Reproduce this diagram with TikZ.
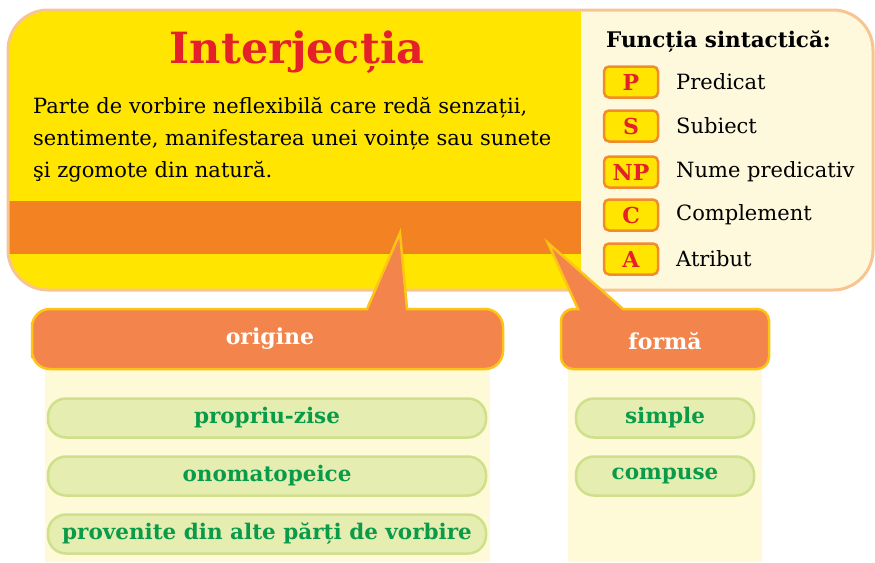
\documentclass[tikz,border=0pt]{standalone}
\usepackage{fontspec}
\setmainfont{DejaVu Serif}
\usepackage{tikz}
\definecolor{sunny}{RGB}{255,229,0}
\definecolor{band}{RGB}{242,130,34}
\definecolor{peach}{RGB}{248,197,146}
\definecolor{creamy}{RGB}{254,248,220}
\definecolor{colcream}{RGB}{254,249,214}
\definecolor{calloutfill}{RGB}{243,132,75}
\definecolor{calloutline}{RGB}{253,195,21}
\definecolor{pillfill}{RGB}{229,237,176}
\definecolor{pillline}{RGB}{207,224,140}
\definecolor{leaf}{RGB}{10,155,74}
\definecolor{tagred}{RGB}{228,32,42}
\definecolor{tagline}{RGB}{242,138,46}

\begin{document}
\begin{tikzpicture}[x=1pt,y=-1pt,
    pill/.style={draw=pillline,fill=pillfill,line width=2.5pt,rounded corners=18pt,minimum height=39pt,
        inner sep=0pt,font=\bfseries\fontsize{21.5}{24}\selectfont,text=leaf},
    tag/.style={draw=tagline,fill=sunny,line width=2.5pt,rounded corners=5pt,minimum width=54pt,
        minimum height=31pt,inner sep=0pt,font=\bfseries\fontsize{22}{24}\selectfont,text=tagred},
    callout/.style={fill=calloutfill,draw=calloutline,line width=2.5pt},
    head/.style={font=\bfseries\fontsize{22}{24}\selectfont,text=white}]
\useasboundingbox (0,0) rectangle (875,562);

% main panel
\fill[creamy,rounded corners=40pt] (8,10) rectangle (873,290);
\begin{scope}
\clip[rounded corners=40pt] (8,10) rectangle (873,290);
\fill[sunny] (8,10) rectangle (581,290);
\fill[band] (8,201) rectangle (581,254);
\end{scope}
\draw[peach,line width=3pt,rounded corners=40pt] (8,10) rectangle (873,290);

\node[text=tagred,font=\bfseries\fontsize{43}{46}\selectfont] (title) at (297,52) {Interjecția};
\node[anchor=north west,inner sep=0pt,align=left,font=\fontsize{21}{32}\selectfont] (def) at (33,97)
    {Parte de vorbire neflexibilă care redă senzații,\\
     sentimente, manifestarea unei voințe sau sunete\\
     şi zgomote din natură.};

% legend
\node[anchor=west,inner sep=0pt,font=\bfseries\fontsize{21.5}{24}\selectfont] (fhead) at (606,42) {Funcția sintactică:};
\foreach \y/\t/\n in {82/P/Predicat,126/S/Subiect,172/NP/Nume predicativ,215/C/Complement,259/A/Atribut}{
    \node[tag] (tag\t) at (631,\y) {\t};
    \node[anchor=west,inner sep=0pt,font=\fontsize{21}{24}\selectfont] (fn\t) at (676,\y) {\n};
}

% columns
\fill[colcream] (45,369) rectangle (490,562);
\fill[colcream] (568,369) rectangle (762,562);

% callouts
\draw[callout,rounded corners=18pt] (32,340) -- (32,309) [sharp corners] -- (367,309) -- (400,233)
    -- (407,309) [rounded corners=18pt] -- (503,309) -- (503,369) -- (32,369) -- cycle;
\draw[callout,rounded corners=12pt] (561,340) -- (561,309) [sharp corners] -- (578,309) -- (548,243)
    -- (623,309) [rounded corners=12pt] -- (769,309) -- (769,369) -- (561,369) -- cycle;
\node[head] (origine) at (270,339) {origine};
\node[head] (forma) at (665,341) {formă};

% items
\node[pill,minimum width=438pt] (propriu) at (267,418) {propriu-zise};
\node[pill,minimum width=438pt] (onomato) at (267,476) {onomatopeice};
\node[pill,minimum width=438pt] (provenite) at (267,534) {provenite din alte părți de vorbire};
\node[pill,minimum width=178pt] (simple) at (665,418) {simple};
\node[pill,minimum width=178pt] (compuse) at (665,476) {compuse};
\end{tikzpicture}
\end{document}
